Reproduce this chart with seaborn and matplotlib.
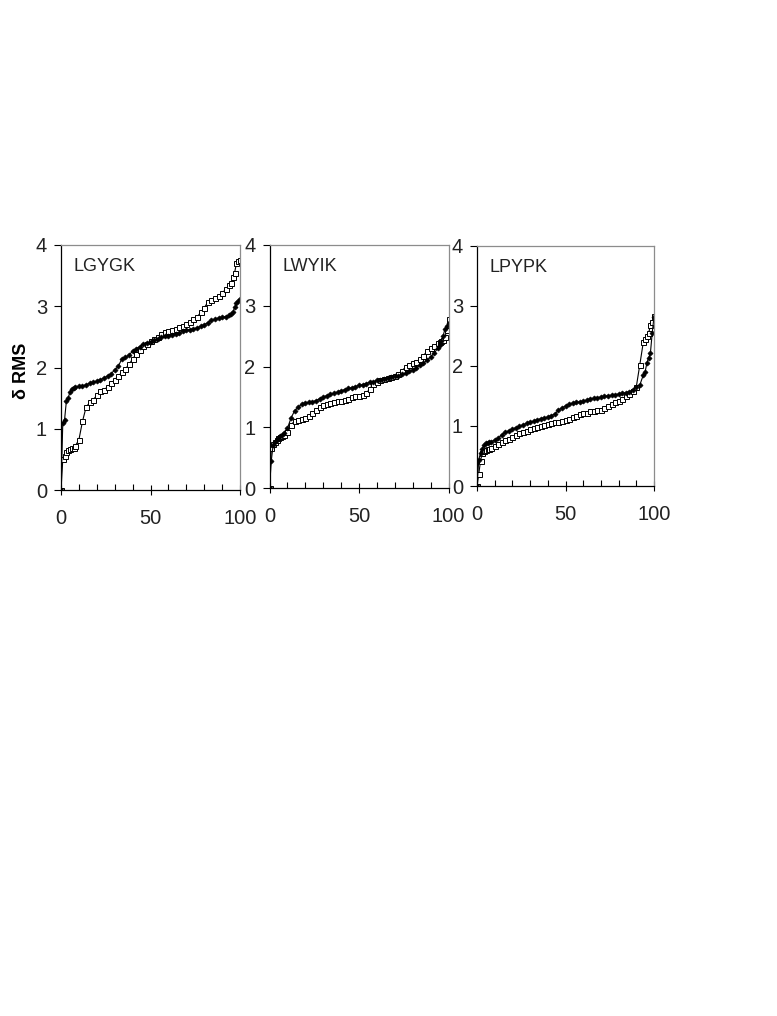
import numpy as np
import pandas as pd
import matplotlib
matplotlib.use("Agg")
import matplotlib.pyplot as plt
import seaborn as sns
from matplotlib.ticker import MultipleLocator

# shared x grid (percent of structures)
X = [0, 1, 2, 3, 4, 5, 6, 7, 8,
     10, 12, 14, 16, 18, 20, 22, 24, 26, 28, 30, 32, 34, 36, 38, 40, 42, 44, 46, 48,
     50, 52, 54, 56, 58, 60, 62, 64, 66, 68, 70, 72, 74, 76, 78, 80, 82, 84, 86, 88,
     90, 92, 94, 95, 96, 97, 98, 99, 100]

panel_titles = ["LGYGK", "LWYIK", "LPYPK"]

# filled-diamond series
lgygk_filled = [0, 1.10, 1.15, 1.45, 1.50, 1.60, 1.65, 1.67, 1.68,
                1.69, 1.70, 1.72, 1.74, 1.76, 1.78, 1.80, 1.83, 1.86, 1.90, 1.96, 2.02, 2.14, 2.17, 2.20, 2.27, 2.31, 2.34, 2.38, 2.40,
                2.42, 2.45, 2.47, 2.49, 2.51, 2.52, 2.53, 2.55, 2.57, 2.59, 2.61, 2.62, 2.63, 2.65, 2.67, 2.70, 2.73, 2.77, 2.79, 2.81,
                2.82, 2.83, 2.85, 2.87, 2.90, 2.98, 3.05, 3.08, 3.12]
lwyik_filled = [0, 0.45, 0.70, 0.76, 0.79, 0.82, 0.85, 0.88, 0.91,
                0.98, 1.15, 1.27, 1.33, 1.38, 1.40, 1.41, 1.42, 1.44, 1.47, 1.50, 1.52, 1.54, 1.56, 1.58, 1.60, 1.62, 1.64, 1.65, 1.67,
                1.69, 1.70, 1.72, 1.74, 1.75, 1.77, 1.78, 1.80, 1.81, 1.83, 1.84, 1.85, 1.87, 1.89, 1.92, 1.95, 1.98, 2.02, 2.06, 2.10,
                2.16, 2.22, 2.30, 2.36, 2.42, 2.50, 2.62, 2.66, 2.71]
lpypk_filled = [0, 0.44, 0.55, 0.62, 0.68, 0.71, 0.72, 0.73, 0.74,
                0.76, 0.80, 0.85, 0.89, 0.92, 0.95, 0.97, 0.99, 1.02, 1.04, 1.06, 1.08, 1.10, 1.12, 1.13, 1.15, 1.17, 1.20, 1.26, 1.30,
                1.33, 1.36, 1.38, 1.39, 1.40, 1.41, 1.43, 1.45, 1.46, 1.47, 1.48, 1.49, 1.50, 1.51, 1.52, 1.53, 1.54, 1.55, 1.57, 1.60,
                1.65, 1.68, 1.85, 1.90, 2.05, 2.13, 2.22, 2.55, 2.81]

# open-square series
lgygk_open = [0, 0.50, 0.55, 0.62, 0.65, 0.67, 0.68, 0.69, 0.72,
              0.82, 1.12, 1.35, 1.43, 1.47, 1.55, 1.61, 1.64, 1.68, 1.74, 1.80, 1.86, 1.92, 1.98, 2.05, 2.14, 2.22, 2.29, 2.35, 2.39,
              2.43, 2.46, 2.50, 2.55, 2.58, 2.59, 2.61, 2.63, 2.66, 2.68, 2.71, 2.75, 2.79, 2.82, 2.90, 2.97, 3.07, 3.10, 3.13, 3.17,
              3.21, 3.28, 3.34, 3.38, 3.48, 3.55, 3.70, 3.74, 3.76]
lwyik_open = [0, 0.66, 0.72, 0.76, 0.79, 0.82, 0.84, 0.86, 0.88,
              0.92, 1.04, 1.10, 1.12, 1.14, 1.16, 1.19, 1.23, 1.28, 1.33, 1.36, 1.38, 1.40, 1.42, 1.43, 1.44, 1.45, 1.47, 1.49, 1.51,
              1.52, 1.53, 1.56, 1.63, 1.72, 1.75, 1.77, 1.79, 1.81, 1.83, 1.85, 1.88, 1.93, 1.99, 2.02, 2.05, 2.08, 2.12, 2.18, 2.25,
              2.30, 2.33, 2.38, 2.41, 2.42, 2.44, 2.48, 2.60, 2.78]
lpypk_open = [0, 0.20, 0.42, 0.55, 0.58, 0.60, 0.61, 0.62, 0.64,
              0.67, 0.70, 0.73, 0.76, 0.79, 0.82, 0.85, 0.88, 0.90, 0.92, 0.94, 0.96, 0.98, 1.00, 1.02, 1.03, 1.04, 1.06, 1.07, 1.08,
              1.10, 1.12, 1.14, 1.17, 1.19, 1.21, 1.22, 1.24, 1.25, 1.26, 1.27, 1.30, 1.33, 1.36, 1.39, 1.42, 1.45, 1.49, 1.53, 1.58,
              1.65, 2.02, 2.40, 2.45, 2.50, 2.55, 2.67, 2.72, 2.82]

filled_series = [lgygk_filled, lwyik_filled, lpypk_filled]
open_series = [lgygk_open, lwyik_open, lpypk_open]

sns.set_theme(style="white")
plt.rcParams['font.family'] = ['Liberation Sans', 'DejaVu Sans']

fig = plt.figure(figsize=(7.77, 10.16), dpi=100)

W, H = 777, 1016
# pixel boxes: left, right, top, bottom
boxes = [(61, 240, 245, 490), (269.5, 448.5, 245, 488), (477, 654, 245.5, 486)]

for i, (l, r, t, b) in enumerate(boxes):
    ax = fig.add_axes([l / W, 1 - b / H, (r - l) / W, (b - t) / H])
    df = pd.DataFrame({"x": X, "filled": filled_series[i], "open": open_series[i]})
    sns.lineplot(data=df, x="x", y="open", ax=ax, color="black", linewidth=0.8,
                 marker="s", markersize=3.6, markerfacecolor="white",
                 markeredgecolor="black", markeredgewidth=0.7)
    sns.lineplot(data=df, x="x", y="filled", ax=ax, color="black", linewidth=0.8,
                 marker="D", markersize=2.6, markerfacecolor="black",
                 markeredgecolor="black", markeredgewidth=0.5)
    ax.set_xlim(0, 100)
    ax.set_ylim(0, 4)
    ax.set_xlabel("")
    ax.set_ylabel("")
    ax.set_xticks([0, 50, 100])
    ax.xaxis.set_minor_locator(MultipleLocator(10))
    ax.set_yticks([0, 1, 2, 3, 4])
    ax.tick_params(axis="y", which="major", direction="out", length=5, width=0.8,
                   color="black", left=True, labelsize=14.5, labelcolor="#222222", pad=5)
    ax.tick_params(axis="x", which="major", direction="inout", length=7, width=0.8,
                   color="black", bottom=True, labelsize=14.5, labelcolor="#222222", pad=10)
    ax.tick_params(axis="x", which="minor", direction="in", length=4, width=0.8,
                   color="black", bottom=True)
    for s in ["left", "bottom"]:
        ax.spines[s].set_color("black")
        ax.spines[s].set_linewidth(0.9)
    for s in ["top", "right"]:
        ax.spines[s].set_color("#8c8c8c")
        ax.spines[s].set_linewidth(0.9)
    ax.text(0.07, 0.945, panel_titles[i], transform=ax.transAxes, ha="left", va="top",
            fontsize=13, color="#222222")

fig.text(21.5 / W, 1 - 371 / H, "δ RMS", rotation=90, ha="center", va="center",
         fontsize=13, fontweight="bold", color="black")

fig.savefig("out.png", dpi=100, facecolor="white")
